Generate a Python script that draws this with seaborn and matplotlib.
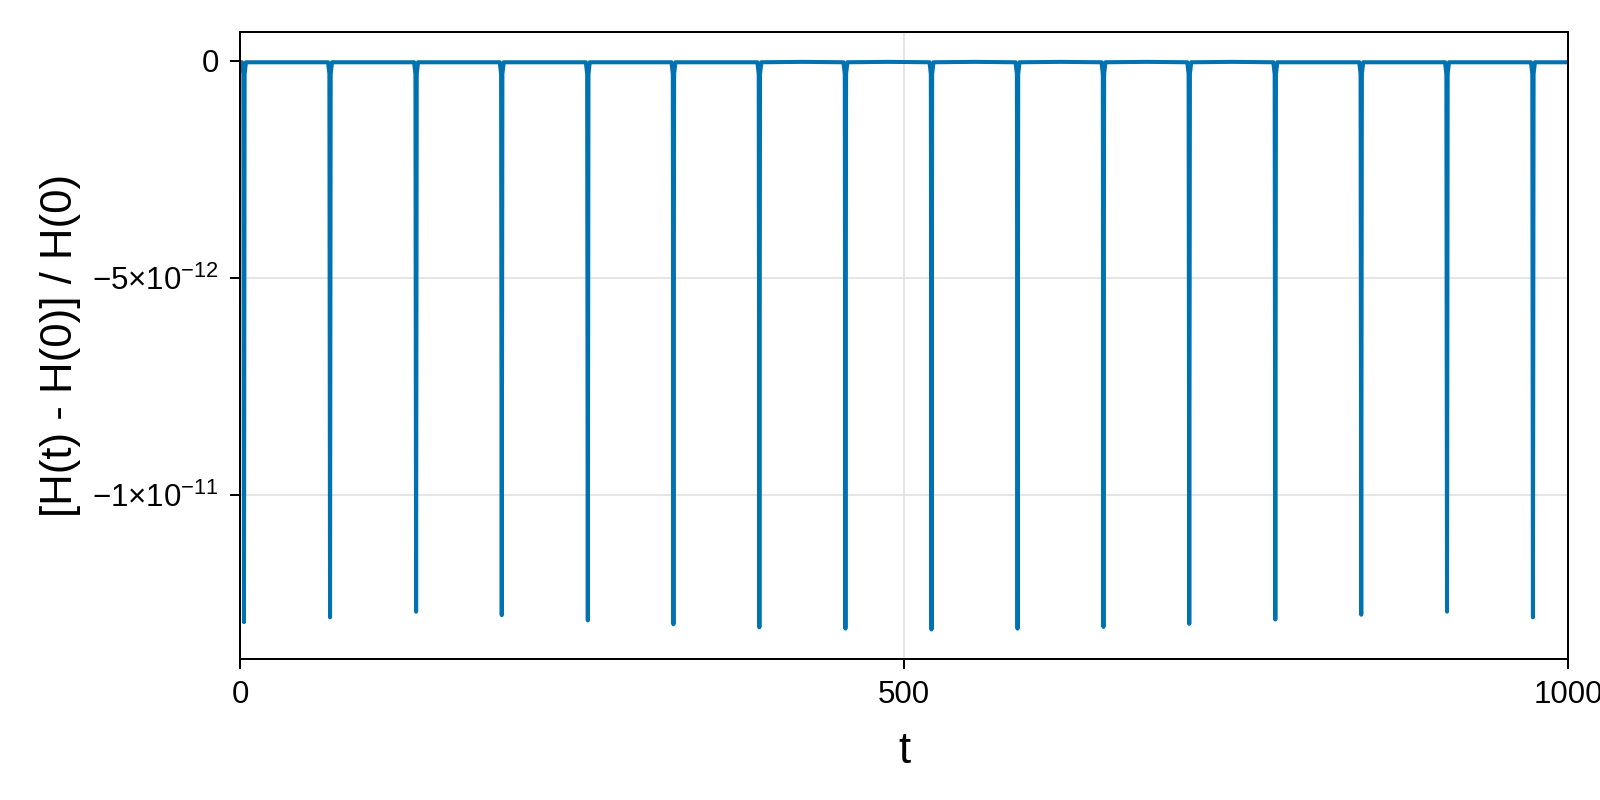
import matplotlib
matplotlib.use("Agg")
import matplotlib.pyplot as plt
import numpy as np
import pandas as pd
import seaborn as sns

# times of the energy-error spikes (one per close approach) and their minima
spike_t = [3.0, 67.8, 132.6, 197.1, 261.9, 326.4, 391.1, 455.9,
           520.7, 585.5, 650.2, 714.8, 779.6, 844.3, 908.9, 973.6]
spike_min = [-12.93e-12, -12.82e-12, -12.69e-12, -12.77e-12,
             -12.89e-12, -12.98e-12, -13.05e-12, -13.08e-12,
             -13.10e-12, -13.08e-12, -13.04e-12, -12.97e-12,
             -12.87e-12, -12.76e-12, -12.69e-12, -12.82e-12]

# samples on the shoulders of every spike (time offset, value)
shoulder_dt = [-1.5, -0.5, 0.5, 1.5]
shoulder_h = [-0.03e-12, -0.3e-12, -0.3e-12, -0.03e-12]

# near-zero level between spikes (start, 15 gaps, end)
gap_h = [-0.03e-12, -0.03e-12, -0.03e-12, -0.03e-12, -0.03e-12, -0.03e-12,
         -0.03e-12, -0.02e-12, -0.02e-12, -0.02e-12, -0.02e-12, -0.02e-12,
         -0.02e-12, -0.03e-12, -0.03e-12, -0.03e-12, -0.03e-12]

# assemble the series
t_pts = [0.0]
h_pts = [gap_h[0]]
for i, tc in enumerate(spike_t):
    if i > 0:
        t_pts.append((spike_t[i - 1] + tc) / 2)
        h_pts.append(gap_h[i])
    for dt, hv in zip(shoulder_dt[:2], shoulder_h[:2]):
        t_pts.append(tc + dt)
        h_pts.append(hv)
    t_pts.append(tc)
    h_pts.append(spike_min[i])
    for dt, hv in zip(shoulder_dt[2:], shoulder_h[2:]):
        t_pts.append(tc + dt)
        h_pts.append(hv)
t_pts.append(1000.0)
h_pts.append(gap_h[-1])

df = pd.DataFrame({"t": t_pts, "dH": h_pts})

sns.set_theme(style="white")
plt.rcParams["font.family"] = ["Liberation Sans", "DejaVu Sans"]
plt.rcParams["mathtext.fontset"] = "custom"
plt.rcParams["mathtext.rm"] = "Liberation Sans"
plt.rcParams["mathtext.it"] = "Liberation Sans:italic"
plt.rcParams["mathtext.bf"] = "Liberation Sans:bold"

fig = plt.figure(figsize=(16, 8), dpi=100)
ax = fig.add_axes([0.15, 0.17625, 0.83, 0.78375])

sns.lineplot(data=df, x="t", y="dH", ax=ax, color="#0072b2",
             linewidth=2.9, sort=False, estimator=None)

ax.set_xlim(0, 1000)
ax.set_ylim(-13.78e-12, 0.668e-12)
ax.set_xticks([0, 500, 1000])
ax.set_xticklabels(["0", "500", "1000"], fontsize=22.5)
ax.set_yticks([0, -5e-12, -1e-11])
ax.set_yticklabels(["0", r"$-5{\times}10^{-12}$", r"$-1{\times}10^{-11}$"],
                   fontsize=22.5)

ax.grid(True, color="#e0e0e0", linewidth=1.2)
ax.set_axisbelow(True)
for sp in ax.spines.values():
    sp.set_visible(True)
    sp.set_color("black")
    sp.set_linewidth(1.44)
ax.tick_params(axis="both", direction="out", length=7.2, width=1.44,
               color="black", labelcolor="black", pad=8,
               bottom=True, left=True)

ax.set_xlabel("t", fontsize=31.5, color="black", va="baseline")
ax.xaxis.set_label_coords(0.5, -0.166)
ax.set_ylabel("[H(t) - H(0)] / H(0)", fontsize=31.5, color="black",
              va="baseline", ha="center")
ax.yaxis.label.set_rotation_mode("anchor")
ax.yaxis.set_label_coords(-0.1265, 0.5)

fig.savefig("out.png", dpi=100)
